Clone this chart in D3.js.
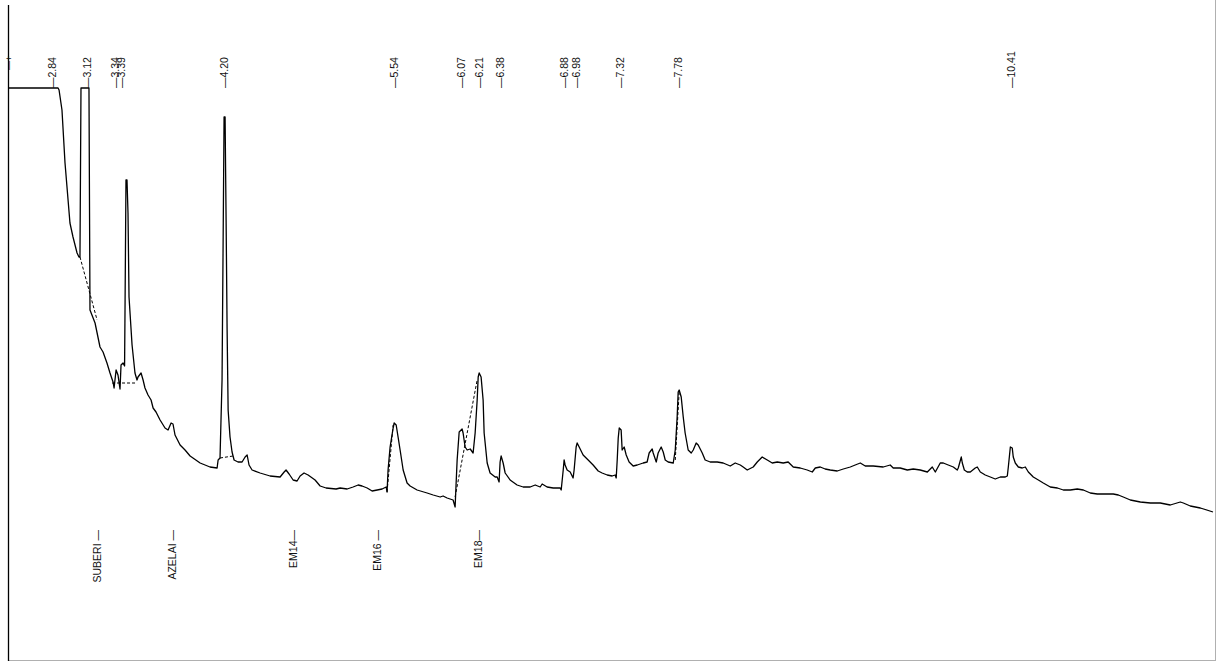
<!DOCTYPE html>
<html>
<head>
<meta charset="utf-8">
<script src="https://cdn.jsdelivr.net/npm/d3@7"></script>
<style>
body { margin: 0; background: #fff; }
text { font-family: Arial, "Liberation Sans", sans-serif; font-size: 10.5px; fill: #111; }
</style>
</head>
<body>
<script>
/*
*    chromatogram
*/

var width = 1216;
var height = 662;

// retention time (min), detector response
var signal = [
  [2.500,572],[2.887,572],[2.895,570],[2.918,550],[2.942,497],[2.981,437],[3.005,423],[3.037,407],
  [3.052,403],[3.060,403],[3.068,572],[3.131,572],[3.139,350],[3.179,337],[3.218,313],[3.242,308],
  [3.273,297],[3.297,287],[3.321,278],[3.329,272],[3.345,290],[3.360,285],[3.376,271],[3.384,295],
  [3.400,297],[3.412,294],[3.416,360],[3.423,480],[3.431,480],[3.439,447],[3.447,363],[3.471,315],
  [3.494,287],[3.510,280],[3.518,283],[3.542,287],[3.558,280],[3.573,272],[3.597,265],[3.621,260],
  [3.637,252],[3.660,248],[3.692,240],[3.731,232],[3.755,230],[3.779,237],[3.794,236],[3.810,225],
  [3.850,215],[3.889,210],[3.929,204],[4.008,197],[4.086,193],[4.142,192],[4.150,200],[4.165,202],
  [4.181,280],[4.189,410],[4.197,543],[4.205,543],[4.213,440],[4.221,330],[4.229,250],[4.244,223],
  [4.260,208],[4.276,200],[4.307,198],[4.339,198],[4.363,203],[4.379,205],[4.394,195],[4.418,190],
  [4.481,187],[4.560,184],[4.639,183],[4.671,188],[4.686,190],[4.710,186],[4.742,180],[4.773,179],
  [4.797,184],[4.828,187],[4.860,185],[4.915,180],[4.955,174],[5.002,172],[5.081,171],[5.113,172],
  [5.168,171],[5.215,173],[5.255,175],[5.286,174],[5.326,172],[5.365,169],[5.405,170],[5.444,171],
  [5.476,173],[5.483,168],[5.491,190],[5.507,213],[5.531,232],[5.539,237],[5.555,235],[5.570,223],
  [5.586,210],[5.610,190],[5.641,177],[5.665,174],[5.720,170],[5.799,167],[5.847,165],[5.902,163],
  [5.925,164],[5.957,162],[6.004,160],[6.020,153],[6.028,177],[6.036,200],[6.052,228],[6.075,231],
  [6.083,227],[6.099,213],[6.115,210],[6.139,211],[6.162,207],[6.178,227],[6.194,260],[6.202,283],
  [6.210,287],[6.225,283],[6.241,260],[6.249,227],[6.273,197],[6.296,187],[6.336,183],[6.352,183],
  [6.367,178],[6.375,198],[6.383,204],[6.399,197],[6.415,187],[6.454,180],[6.509,175],[6.557,173],
  [6.612,173],[6.652,175],[6.691,173],[6.707,176],[6.746,173],[6.794,172],[6.849,172],[6.857,170],
  [6.873,190],[6.880,200],[6.888,195],[6.904,190],[6.928,188],[6.951,182],[6.959,190],[6.975,213],
  [6.983,217],[6.999,213],[7.030,205],[7.070,200],[7.109,195],[7.149,189],[7.180,187],[7.220,185],
  [7.259,184],[7.283,185],[7.291,182],[7.299,200],[7.307,222],[7.315,232],[7.330,230],[7.338,210],
  [7.354,213],[7.370,205],[7.393,198],[7.425,194],[7.457,195],[7.504,197],[7.535,198],[7.551,207],
  [7.575,211],[7.583,207],[7.607,198],[7.622,207],[7.646,213],[7.662,208],[7.678,200],[7.701,198],
  [7.741,197],[7.757,210],[7.772,243],[7.780,268],[7.788,270],[7.804,263],[7.820,243],[7.835,227],
  [7.859,210],[7.883,207],[7.899,210],[7.922,217],[7.938,215],[7.970,207],[7.993,200],[8.033,198],
  [8.088,198],[8.135,197],[8.191,194],[8.230,197],[8.270,195],[8.293,193],[8.325,190],[8.372,193],
  [8.404,198],[8.443,203],[8.483,200],[8.522,197],[8.562,198],[8.609,197],[8.648,198],[8.688,193],
  [8.743,192],[8.798,190],[8.838,188],[8.862,192],[8.901,193],[8.940,191],[8.980,190],[9.035,189],
  [9.083,191],[9.138,193],[9.177,195],[9.217,197],[9.256,194],[9.319,194],[9.398,193],[9.453,195],
  [9.477,192],[9.532,192],[9.588,190],[9.635,191],[9.690,190],[9.746,188],[9.785,193],[9.809,188],
  [9.848,197],[9.872,197],[9.911,195],[9.951,193],[9.982,190],[9.990,192],[10.014,203],[10.022,197],
  [10.038,190],[10.061,188],[10.085,188],[10.124,192],[10.140,193],[10.164,188],[10.203,185],[10.243,183],
  [10.282,181],[10.322,183],[10.361,183],[10.377,184],[10.385,193],[10.401,213],[10.416,212],[10.424,203],
  [10.440,197],[10.464,193],[10.495,192],[10.519,193],[10.543,188],[10.582,183],[10.622,180],[10.661,177],
  [10.716,173],[10.772,172],[10.819,170],[10.874,170],[10.929,171],[10.977,170],[11.032,167],[11.087,166],
  [11.166,166],[11.213,166],[11.253,165],[11.292,163],[11.348,160],[11.427,158],[11.506,157],[11.584,157],
  [11.663,155],[11.742,158],[11.766,157],[11.821,154],[11.900,152],[12.000,148]
];

// integration baselines drawn under peaks
var baselines = [
  [[3.060,403],[3.195,340]],
  [[3.313,277],[3.510,277]],
  [[4.165,202],[4.268,204]],
  [[5.483,168],[5.531,235]],
  [[6.020,163],[6.194,280]],
  [[7.757,200],[7.788,268]]
];

var peakTimes = [2.84, 3.12, 3.34, 3.39, 4.20, 5.54, 6.07, 6.21, 6.38, 6.88, 6.98, 7.32, 7.78, 10.41];

var compoundNames = ["SUBERI \u2014", "AZELAI \u2014", "EM14\u2014", "EM16 \u2014", "EM18\u2014"];
var compoundTimes = [3.20, 3.79, 4.74, 5.41, 6.20];

//Scales
var x = d3.scaleLinear()
    .domain([2.5, 12.0])
    .range([9, 1213]);

var y = d3.scaleLinear()
    .domain([0, 572])
    .range([660, 88])
    .clamp(true);

//Canvas
const svg = d3.select("body")
    .append("svg")
        .attr("width", width)
        .attr("height", height);

// frame
svg.append("line")
    .attr("x1", 1215.5).attr("x2", 1215.5)
    .attr("y1", 0).attr("y2", 661)
    .attr("stroke", "#b0b0b0");
svg.append("line")
    .attr("x1", 8).attr("x2", 1216)
    .attr("y1", 660.5).attr("y2", 660.5)
    .attr("stroke", "#b0b0b0");
svg.append("line")
    .attr("x1", 8.5).attr("x2", 8.5)
    .attr("y1", 5).attr("y2", 661)
    .attr("stroke", "#000")
    .attr("stroke-width", 1.3);

// start marker
svg.append("text")
    .attr("transform", "translate(" + x(2.5) + ",70) rotate(-90)")
    .attr("dy", "0.35em")
    .style("font-size", "9px")
    .text("\u2014+");

//Trace
var line = d3.line()
    .x(d => x(d[0]))
    .y(d => y(d[1]));

svg.append("path")
    .datum(signal)
    .attr("fill", "none")
    .attr("stroke", "#000")
    .attr("stroke-width", 1.3)
    .attr("stroke-linejoin", "round")
    .attr("d", line);

svg.selectAll(".baseline")
    .data(baselines)
    .enter()
    .append("path")
        .attr("class", "baseline")
        .attr("fill", "none")
        .attr("stroke", "#000")
        .attr("stroke-width", 1)
        .attr("stroke-dasharray", "3,2")
        .attr("d", line);

//Peak labels
svg.selectAll(".peak")
    .data(peakTimes)
    .enter()
    .append("text")
        .attr("class", "peak")
        .attr("transform", d => "translate(" + x(d) + ",88) rotate(-90)")
        .attr("dy", "0.35em")
        .attr("text-anchor", "start")
        .text(d => "\u2014" + d.toFixed(2));

//Compound labels
svg.selectAll(".compound")
    .data(compoundTimes)
    .enter()
    .append("text")
        .attr("class", "compound")
        .attr("transform", d => "translate(" + x(d) + ",530) rotate(-90)")
        .attr("dy", "0.35em")
        .attr("text-anchor", "end")
        .text((d, i) => compoundNames[i]);

</script>
</body>
</html>
